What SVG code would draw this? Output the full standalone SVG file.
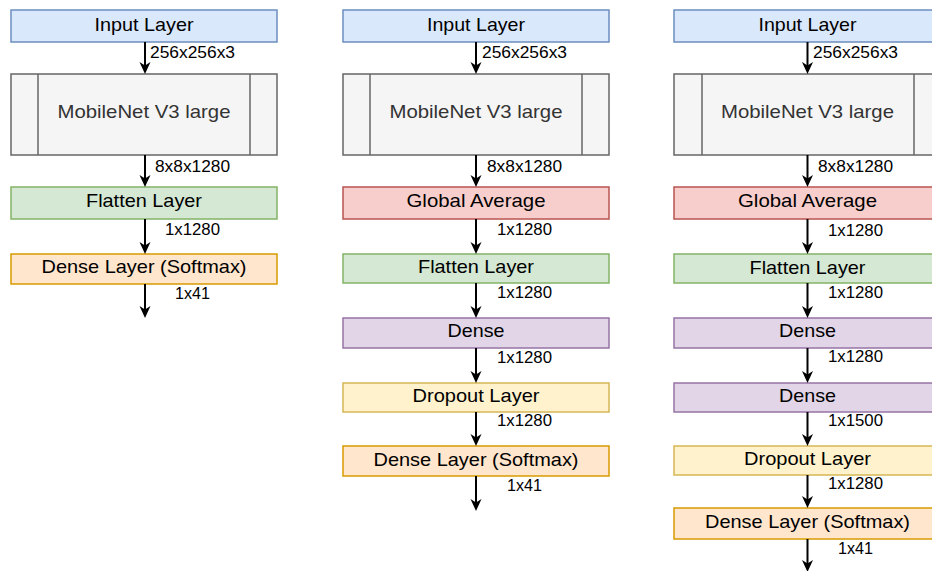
<svg xmlns="http://www.w3.org/2000/svg" width="932" height="571" viewBox="0 0 932 571">
<style>
  rect { stroke-width: 1.5; }
  .inp { fill: #dae8fc; stroke: #6c8ebf; }
  .mob { fill: #f5f5f5; stroke: #666666; }
  .fla { fill: #d5e8d4; stroke: #82b366; }
  .sof { fill: #ffe6cc; stroke: #d79b00; }
  .gav { fill: #f8cecc; stroke: #b85450; }
  .den { fill: #e1d5e7; stroke: #9673a6; }
  .dro { fill: #fff2cc; stroke: #d6b656; }
  .div { stroke: #666666; stroke-width: 1.5; }
  .t { font-family: "Liberation Sans", Arial, sans-serif; font-size: 18.5px; fill: #000; text-anchor: middle; }
  .tm { font-family: "Liberation Sans", Arial, sans-serif; font-size: 18.5px; fill: #333333; text-anchor: middle; }
  .lb { font-family: "Liberation Sans", Arial, sans-serif; font-size: 16px; fill: #000; }
  .c line { stroke: #000; stroke-width: 2; fill: none; marker-end: url(#arr); }
</style>
<defs>
  <marker id="arr" markerUnits="userSpaceOnUse" markerWidth="16" markerHeight="14" viewBox="-13 -7 16 14" refX="-4" refY="0" orient="auto">
    <path d="M0,0 L-12,-5.5 L-8.5,0 L-12,5.5 Z" fill="#000"/>
  </marker>
</defs>
<rect width="932" height="571" fill="#ffffff"/>

<!-- Column 1 -->
<g id="c1-input"><rect class="inp" x="11" y="10" width="266" height="32"/><text class="t" x="144" y="31" textLength="99" lengthAdjust="spacingAndGlyphs">Input Layer</text></g>
<g id="c1-mobilenet"><rect class="mob" x="11" y="74" width="266" height="81"/><line class="div" x1="38" y1="74" x2="38" y2="155"/><line class="div" x1="250" y1="74" x2="250" y2="155"/><text class="tm" x="144" y="118" textLength="173" lengthAdjust="spacingAndGlyphs">MobileNet V3 large</text></g>
<g id="c1-flatten"><rect class="fla" x="11" y="187" width="266" height="32"/><text class="t" x="144" y="207" textLength="116" lengthAdjust="spacingAndGlyphs">Flatten Layer</text></g>
<g id="c1-softmax"><rect class="sof" x="11" y="254" width="266" height="30"/><text class="t" x="144" y="273" textLength="205" lengthAdjust="spacingAndGlyphs">Dense Layer (Softmax)</text></g>

<!-- Column 2 -->
<g id="c2-input"><rect class="inp" x="343" y="10" width="266" height="32"/><text class="t" x="476" y="31" textLength="98" lengthAdjust="spacingAndGlyphs">Input Layer</text></g>
<g id="c2-mobilenet"><rect class="mob" x="343" y="74" width="266" height="81"/><line class="div" x1="370" y1="74" x2="370" y2="155"/><line class="div" x1="582" y1="74" x2="582" y2="155"/><text class="tm" x="476" y="118" textLength="173" lengthAdjust="spacingAndGlyphs">MobileNet V3 large</text></g>
<g id="c2-gavg"><rect class="gav" x="343" y="187" width="266" height="32"/><text class="t" x="476" y="207" textLength="139" lengthAdjust="spacingAndGlyphs">Global Average</text></g>
<g id="c2-flatten"><rect class="fla" x="343" y="254" width="266" height="29"/><text class="t" x="476" y="273" textLength="116" lengthAdjust="spacingAndGlyphs">Flatten Layer</text></g>
<g id="c2-dense"><rect class="den" x="343" y="318" width="266" height="30"/><text class="t" x="476" y="337" textLength="57" lengthAdjust="spacingAndGlyphs">Dense</text></g>
<g id="c2-dropout"><rect class="dro" x="343" y="383" width="266" height="29"/><text class="t" x="476" y="402" textLength="127" lengthAdjust="spacingAndGlyphs">Dropout Layer</text></g>
<g id="c2-softmax"><rect class="sof" x="343" y="446" width="266" height="30"/><text class="t" x="476" y="466" textLength="205" lengthAdjust="spacingAndGlyphs">Dense Layer (Softmax)</text></g>

<!-- Column 3 -->
<g id="c3-input"><rect class="inp" x="674" y="10" width="267" height="32"/><text class="t" x="807.5" y="31" textLength="98" lengthAdjust="spacingAndGlyphs">Input Layer</text></g>
<g id="c3-mobilenet"><rect class="mob" x="674" y="74" width="267" height="81"/><line class="div" x1="702" y1="74" x2="702" y2="155"/><line class="div" x1="914" y1="74" x2="914" y2="155"/><text class="tm" x="807.5" y="118" textLength="173" lengthAdjust="spacingAndGlyphs">MobileNet V3 large</text></g>
<g id="c3-gavg"><rect class="gav" x="674" y="187" width="267" height="32"/><text class="t" x="807.5" y="207" textLength="139" lengthAdjust="spacingAndGlyphs">Global Average</text></g>
<g id="c3-flatten"><rect class="fla" x="674" y="254" width="267" height="29"/><text class="t" x="807.5" y="274" textLength="116" lengthAdjust="spacingAndGlyphs">Flatten Layer</text></g>
<g id="c3-dense1"><rect class="den" x="674" y="318" width="267" height="30"/><text class="t" x="807.5" y="337" textLength="57" lengthAdjust="spacingAndGlyphs">Dense</text></g>
<g id="c3-dense2"><rect class="den" x="674" y="383" width="267" height="29"/><text class="t" x="807.5" y="402" textLength="57" lengthAdjust="spacingAndGlyphs">Dense</text></g>
<g id="c3-dropout"><rect class="dro" x="674" y="446" width="267" height="29"/><text class="t" x="807.5" y="465" textLength="127" lengthAdjust="spacingAndGlyphs">Dropout Layer</text></g>
<g id="c3-softmax"><rect class="sof" x="674" y="508" width="267" height="31"/><text class="t" x="807.5" y="528" textLength="205" lengthAdjust="spacingAndGlyphs">Dense Layer (Softmax)</text></g>

<!-- Connectors -->
<g id="connectors" class="c">
  <line x1="145" y1="42" x2="145" y2="70"/>
  <line x1="145" y1="155" x2="145" y2="183"/>
  <line x1="145" y1="219" x2="145" y2="250"/>
  <line x1="145" y1="284" x2="145" y2="314"/>

  <line x1="476" y1="42" x2="476" y2="70"/>
  <line x1="476" y1="155" x2="476" y2="183"/>
  <line x1="476" y1="219" x2="476" y2="250"/>
  <line x1="476" y1="283" x2="476" y2="314"/>
  <line x1="476" y1="348" x2="476" y2="379"/>
  <line x1="476" y1="412" x2="476" y2="442"/>
  <line x1="476" y1="476" x2="476" y2="507"/>

  <line x1="807.5" y1="42" x2="807.5" y2="70"/>
  <line x1="807.5" y1="155" x2="807.5" y2="183"/>
  <line x1="807.5" y1="219" x2="807.5" y2="250"/>
  <line x1="807.5" y1="283" x2="807.5" y2="314"/>
  <line x1="807.5" y1="348" x2="807.5" y2="379"/>
  <line x1="807.5" y1="412" x2="807.5" y2="442"/>
  <line x1="807.5" y1="475" x2="807.5" y2="504"/>
  <line x1="807.5" y1="539" x2="807.5" y2="568"/>
</g>

<!-- Connector labels -->
<g id="labels">
  <text class="lb" x="150" y="57.5" textLength="85" lengthAdjust="spacingAndGlyphs">256x256x3</text>
  <text class="lb" x="155" y="171.5" textLength="75" lengthAdjust="spacingAndGlyphs">8x8x1280</text>
  <text class="lb" x="165" y="234.5" textLength="55" lengthAdjust="spacingAndGlyphs">1x1280</text>
  <text class="lb" x="175" y="299" textLength="35" lengthAdjust="spacingAndGlyphs">1x41</text>

  <text class="lb" x="482" y="57.5" textLength="85" lengthAdjust="spacingAndGlyphs">256x256x3</text>
  <text class="lb" x="487" y="171.5" textLength="75" lengthAdjust="spacingAndGlyphs">8x8x1280</text>
  <text class="lb" x="497" y="235" textLength="55" lengthAdjust="spacingAndGlyphs">1x1280</text>
  <text class="lb" x="497" y="298" textLength="55" lengthAdjust="spacingAndGlyphs">1x1280</text>
  <text class="lb" x="497" y="363" textLength="55" lengthAdjust="spacingAndGlyphs">1x1280</text>
  <text class="lb" x="497" y="426" textLength="55" lengthAdjust="spacingAndGlyphs">1x1280</text>
  <text class="lb" x="507" y="491" textLength="35" lengthAdjust="spacingAndGlyphs">1x41</text>

  <text class="lb" x="813" y="58" textLength="85" lengthAdjust="spacingAndGlyphs">256x256x3</text>
  <text class="lb" x="818" y="171.5" textLength="75" lengthAdjust="spacingAndGlyphs">8x8x1280</text>
  <text class="lb" x="828" y="236" textLength="55" lengthAdjust="spacingAndGlyphs">1x1280</text>
  <text class="lb" x="828" y="298" textLength="55" lengthAdjust="spacingAndGlyphs">1x1280</text>
  <text class="lb" x="828" y="361.5" textLength="55" lengthAdjust="spacingAndGlyphs">1x1280</text>
  <text class="lb" x="828" y="425.5" textLength="55" lengthAdjust="spacingAndGlyphs">1x1500</text>
  <text class="lb" x="828" y="489" textLength="55" lengthAdjust="spacingAndGlyphs">1x1280</text>
  <text class="lb" x="838" y="554" textLength="35" lengthAdjust="spacingAndGlyphs">1x41</text>
</g>
</svg>
